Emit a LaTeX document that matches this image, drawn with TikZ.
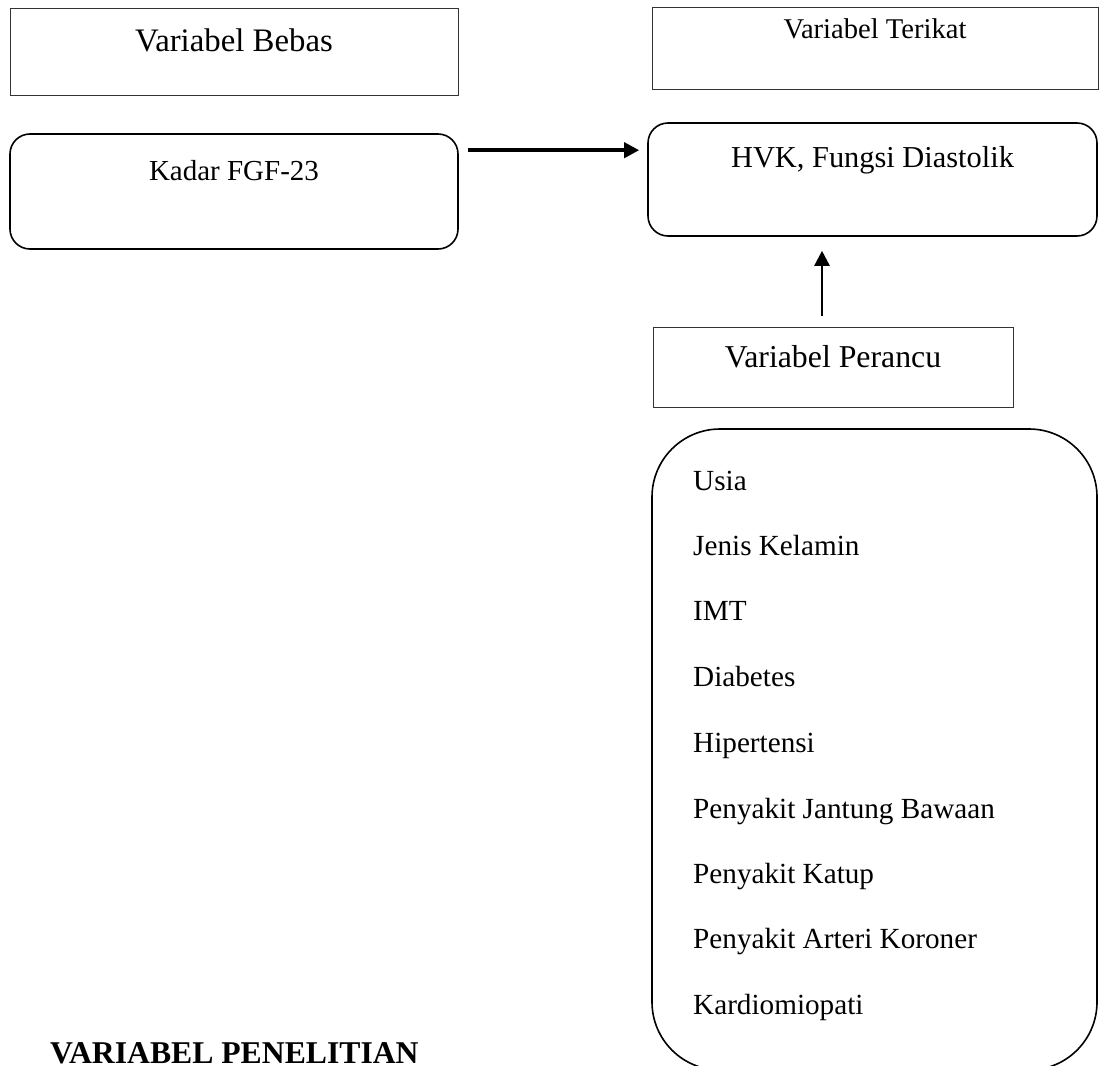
\documentclass[tikz,border=0pt]{standalone}
\usepackage{fontspec}
\setmainfont{Liberation Serif}
\usepackage{tikz}
\usetikzlibrary{arrows.meta}

\begin{document}
\begin{tikzpicture}[%
      x=1pt, y=-1pt,
      varbox/.style={draw=black!80, line width=1pt, inner sep=0pt, anchor=base},
      roundbox/.style={draw, line width=1.6pt, inner sep=0pt, anchor=base, rounded corners=20pt},
      item/.style={anchor=base west, inner sep=0pt, font=\fontsize{29.2}{35}\selectfont},
      arrowline/.style={-{Triangle[length=15pt,width=15pt]}},
      ]
      \useasboundingbox (0,0) rectangle (1099,1065);
      \clip (0,0) rectangle (1099,1065);

      \node [varbox, minimum width=448pt, text height=43pt, text depth=43pt,
             font=\fontsize{32.8}{39}\selectfont] (bebas) at (234,52) {Variabel Bebas};
      \node [varbox, minimum width=446pt, text height=30pt, text depth=51pt,
             font=\fontsize{28.6}{34}\selectfont] (terikat) at (875,38) {Variabel Terikat};

      \node [roundbox, minimum width=448pt, text height=46pt, text depth=69pt,
             font=\fontsize{29}{35}\selectfont] (kadar) at (234,180) {Kadar FGF-23};
      \node [roundbox, minimum width=449pt, text height=44pt, text depth=69pt,
             font=\fontsize{30.4}{36}\selectfont] (hvk) at (872.5,167) {HVK, Fungsi Diastolik};

      \node [varbox, minimum width=360pt, text height=40pt, text depth=40pt,
             font=\fontsize{31.8}{38}\selectfont] (perancu) at (833,367) {Variabel Perancu};

      \draw [arrowline, line width=4pt] ([shift={(9,17)}]kadar.north east) -- ([shift={(-8,28)}]hvk.north west);
      \draw [arrowline, line width=2.5pt] ([shift={(-11,-11)}]perancu.north) -- ([shift={(-50.5,14)}]hvk.south);

      \node [draw, line width=1.6pt, minimum width=445pt, minimum height=641pt,
             rounded corners=68pt] (confbox) at (874.5,749.5) {};

      \node [item] (usia) at (693,490) {Usia};
      \node [item] (kelamin) at (693,555) {Jenis Kelamin};
      \node [item] (imt) at (693,620) {IMT};
      \node [item] (diabetes) at (693,686) {Diabetes};
      \node [item] (hipertensi) at (693,752) {Hipertensi};
      \node [item] (bawaan) at (693,818) {Penyakit Jantung Bawaan};
      \node [item] (katup) at (693,883) {Penyakit Katup};
      \node [item] (koroner) at (693,948) {Penyakit Arteri Koroner};
      \node [item] (kardio) at (693,1014) {Kardiomiopati};

      \node [anchor=base west, inner sep=0pt, font=\fontsize{31.7}{38}\selectfont\bfseries] (judul) at (50,1063) {VARIABEL PENELITIAN};
      \end{tikzpicture}
\end{document}
